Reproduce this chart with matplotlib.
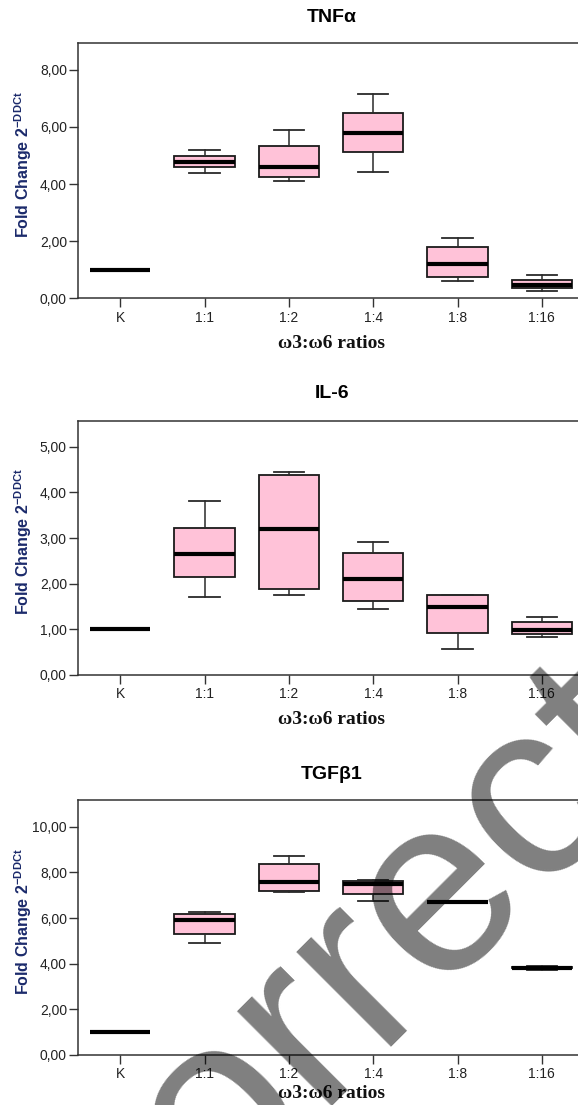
import matplotlib
matplotlib.use("Agg")
import matplotlib.pyplot as plt

# ---------------- data ----------------
categories = ["K", "1:1", "1:2", "1:4", "1:8", "1:16"]
panel_titles = ["TNFα", "IL-6", "TGFβ1"]

# box statistics per category: whislo, q1, med, q3, whishi
tnf_whislo = [1.00, 4.38, 4.11, 4.42, 0.61, 0.25]
tnf_q1     = [1.00, 4.59, 4.24, 5.13, 0.74, 0.37]
tnf_med    = [1.00, 4.79, 4.60, 5.79, 1.19, 0.47]
tnf_q3     = [1.00, 5.00, 5.35, 6.50, 1.80, 0.65]
tnf_whishi = [1.00, 5.18, 5.88, 7.16, 2.11, 0.83]

il6_whislo = [1.00, 1.70, 1.76, 1.45, 0.56, 0.84]
il6_q1     = [1.00, 2.14, 1.89, 1.62, 0.93, 0.90]
il6_med    = [1.00, 2.64, 3.20, 2.11, 1.50, 0.99]
il6_q3     = [1.00, 3.23, 4.39, 2.67, 1.75, 1.15]
il6_whishi = [1.00, 3.81, 4.45, 2.91, 1.75, 1.26]

tgf_whislo = [1.00, 4.92, 7.14, 6.74, 6.69, 3.74]
tgf_q1     = [1.00, 5.31, 7.18, 7.04, 6.69, 3.80]
tgf_med    = [1.00, 5.93, 7.58, 7.47, 6.69, 3.82]
tgf_q3     = [1.00, 6.19, 8.35, 7.64, 6.69, 3.84]
tgf_whishi = [1.00, 6.25, 8.73, 7.68, 6.69, 3.90]

tnf_ticks = [0, 2, 4, 6, 8]
il6_ticks = [0, 1, 2, 3, 4, 5]
tgf_ticks = [0, 2, 4, 6, 8, 10]
ylims = [8.93, 5.57, 11.17]

x_label = "ω3:ω6 ratios"
y_label = "Fold Change 2$^{\\mathregular{-DDCt}}$"
watermark = "Incorrect"

# ---------------- figure ----------------
W, H = 578, 1105
DPI = 100
fig = plt.figure(figsize=(W / DPI, H / DPI), dpi=DPI)
fig.patch.set_facecolor("white")

def fx(px):
    return px / W

def fy(py):
    return 1 - py / H

left_px, right_px = 78, 584
panels = [
    (43.3, 298.3),
    (420.7, 675.0),
    (800.0, 1055.0),
]
title_y = [17.3, 393.3, 774.3]
xlabel_off = [45, 45, 39]

stats_all = [
    (tnf_whislo, tnf_q1, tnf_med, tnf_q3, tnf_whishi, tnf_ticks),
    (il6_whislo, il6_q1, il6_med, il6_q3, il6_whishi, il6_ticks),
    (tgf_whislo, tgf_q1, tgf_med, tgf_q3, tgf_whishi, tgf_ticks),
]

pink = "#ffc2d8"
edge = "#1a1a1a"
tick_color = "#222222"
label_blue = "#1b2a6b"

for i, ((top, bot), (wl, q1, md, q3, wh, ticks)) in enumerate(zip(panels, stats_all)):
    ax = fig.add_axes([fx(left_px), fy(bot), (right_px - left_px) / W, (bot - top) / H])
    bstats = []
    for j, c in enumerate(categories):
        bstats.append(dict(label=c, whislo=wl[j], q1=q1[j], med=md[j],
                           q3=q3[j], whishi=wh[j], fliers=[]))
    positions = list(range(len(categories)))
    ax.bxp(bstats, positions=positions, widths=0.715, patch_artist=True,
           showfliers=False, capwidths=0.36,
           boxprops=dict(facecolor=pink, edgecolor=edge, linewidth=1.3),
           whiskerprops=dict(color="#2a2a2a", linewidth=1.1),
           capprops=dict(color="#2a2a2a", linewidth=1.3),
           medianprops=dict(color="black", linewidth=3.0, solid_capstyle="butt"),
           manage_ticks=False)
    ax.set_xlim(-0.5, 5.5)
    ax.set_ylim(0, ylims[i])
    ax.set_xticks(positions)
    ax.set_xticklabels(categories)
    ax.set_yticks(ticks)
    ax.set_yticklabels([f"{t:.2f}".replace(".", ",") for t in ticks])
    ax.tick_params(axis="both", direction="out", length=6.5, width=1.0,
                   color="#333333", labelcolor=tick_color, labelsize=10, pad=1.5)
    ax.tick_params(axis="x", pad=2.5)
    for lab in ax.get_xticklabels() + ax.get_yticklabels():
        lab.set_family("Liberation Sans")
    for s in ax.spines.values():
        s.set_color("#333333")
        s.set_linewidth(1.1)
    ax.set_facecolor("white")

    # title
    fig.text(fx((left_px + right_px) / 2 + 1), fy(title_y[i]), panel_titles[i],
             ha="center", va="center", fontsize=14, fontweight="bold",
             family=["Liberation Sans", "DejaVu Sans"], color="black")
    # x label
    fig.text(fx(331), fy(bot + xlabel_off[i]), x_label, ha="center", va="center",
             fontsize=14, fontweight="bold",
             family=["Liberation Serif", "DejaVu Serif"], color="#111111")
    # y label
    fig.text(fx(23), fy((top + bot) / 2 - 6), y_label, ha="center", va="center",
             rotation=90, fontsize=11.5, fontweight="bold",
             family=["Liberation Sans", "DejaVu Sans"], color=label_blue)

# watermark
fig.text(fx(324.2), fy(1090.7), watermark, ha="center", va="baseline",
         rotation=45, rotation_mode="anchor", fontsize=181.4,
         family="Liberation Sans", color="black", alpha=0.5, zorder=20)

fig.savefig("out.png", dpi=DPI, facecolor="white")
